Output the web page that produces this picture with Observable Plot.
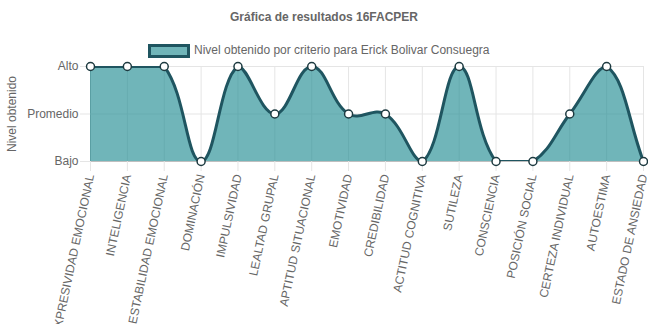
<!DOCTYPE html>
<html>
<head>
<meta charset="utf-8">
<script src="https://cdn.jsdelivr.net/npm/d3@7"></script>
<script src="https://cdn.jsdelivr.net/npm/@observablehq/plot@0.6"></script>
<style>
  html, body { margin: 0; padding: 0; background: #fff; }
  #chart { position: relative; width: 648px; height: 324px; overflow: hidden;
           font-family: "Liberation Sans", Arial, Helvetica, sans-serif; color: #666; }
  #title { position: absolute; left: 0; top: 9px; width: 648px; text-align: center;
           font-size: 12px; font-weight: bold; line-height: 16px; }
  #legend { position: absolute; top: 42px; left: 0; width: 648px; height: 16px; }
  #legend .swatch { position: absolute; left: 148px; top: 2px; width: 36px; height: 8px;
                    border: 3px solid #1f5560; background: rgba(36,142,148,0.65); }
  #legend .label { position: absolute; left: 194px; top: 0; font-size: 12px; line-height: 16px; white-space: nowrap; }
  #plot { position: absolute; left: 0; top: 60px; }
</style>
</head>
<body>
<div id="chart">
  <div id="title"></div>
  <div id="legend"><span class="swatch"></span><span class="label"></span></div>
  <div id="plot"></div>
</div>
<script>
// Criteria evaluated by the 16FACPER test
const criterios = [
  "EXPRESIVIDAD EMOCIONAL", "INTELIGENCIA", "ESTABILIDAD EMOCIONAL", "DOMINACIÓN",
  "IMPULSIVIDAD", "LEALTAD GRUPAL", "APTITUD SITUACIONAL", "EMOTIVIDAD",
  "CREDIBILIDAD", "ACTITUD COGNITIVA", "SUTILEZA", "CONSCIENCIA",
  "POSICIÓN SOCIAL", "CERTEZA INDIVIDUAL", "AUTOESTIMA", "ESTADO DE ANSIEDAD"
];
// Level reached per criterion: 0 = Bajo, 1 = Promedio, 2 = Alto
const niveles = [2, 2, 2, 0, 2, 1, 2, 1, 1, 0, 2, 0, 0, 1, 2, 0];
// Labels of the level axis
const etiquetasNivel = ["Bajo", "Promedio", "Alto"];

const titulo = "Gráfica de resultados 16FACPER";
const serie = "Nivel obtenido por criterio para Erick Bolivar Consuegra";
const ejeY = "Nivel obtenido";

document.getElementById("title").textContent = titulo;
document.querySelector("#legend .label").textContent = serie;

const W = 648, H = 264;
const M = {top: 6, right: 5, bottom: 163, left: 90};
const plotArea = {left: M.left, right: W - M.right, top: M.top, bottom: H - M.bottom};

const datos = criterios.map((c, i) => ({criterio: c, nivel: niveles[i]}));

// Bezier spline with tension 0.4 whose control points stay inside the plot area
function splineAcotado(area, tension = 0.4) {
  const cx = (v) => Math.max(Math.min(v, area.right), area.left);
  const cy = (v) => Math.max(Math.min(v, area.bottom), area.top);
  return (context) => {
    let pts = [], line = NaN;
    return {
      areaStart() { line = 0; },
      areaEnd() { line = NaN; },
      lineStart() { pts = []; },
      point(x, y) { pts.push([+x, +y]); },
      lineEnd() {
        const n = pts.length;
        if (n) {
          const cps = pts.map((p, i) => {
            const a = pts[Math.max(i - 1, 0)], b = pts[Math.min(i + 1, n - 1)];
            const d01 = Math.hypot(p[0] - a[0], p[1] - a[1]);
            const d12 = Math.hypot(b[0] - p[0], b[1] - p[1]);
            let s01 = d01 / (d01 + d12), s12 = d12 / (d01 + d12);
            if (!isFinite(s01)) s01 = 0;
            if (!isFinite(s12)) s12 = 0;
            const fa = tension * s01, fb = tension * s12;
            return {
              inX: cx(p[0] - fa * (b[0] - a[0])), inY: cy(p[1] - fa * (b[1] - a[1])),
              outX: cx(p[0] + fb * (b[0] - a[0])), outY: cy(p[1] + fb * (b[1] - a[1]))
            };
          });
          if (line) context.lineTo(pts[0][0], pts[0][1]);
          else context.moveTo(pts[0][0], pts[0][1]);
          for (let i = 1; i < n; i++) {
            context.bezierCurveTo(cps[i - 1].outX, cps[i - 1].outY, cps[i].inX, cps[i].inY, pts[i][0], pts[i][1]);
          }
        }
        if (line || (line !== 0 && n === 1)) context.closePath();
        line = 1 - line;
      }
    };
  };
}

const curva = splineAcotado(plotArea);
const gris = "#e5e5e5";
const grisCero = "#bfbfbf";
const tealLinea = "#1f5560";

const chart = Plot.plot({
  width: W,
  height: H,
  marginTop: M.top,
  marginRight: M.right,
  marginBottom: M.bottom,
  marginLeft: M.left,
  style: {fontFamily: "'Liberation Sans', Arial, Helvetica, sans-serif", fontSize: "12px", color: "#666", background: "transparent", overflow: "visible"},
  x: {type: "point", domain: criterios, padding: 0, round: false},
  y: {domain: [0, 2]},
  marks: [
    Plot.ruleX(criterios.slice(1), {stroke: gris}),
    Plot.ruleX(criterios.slice(0, 1), {stroke: grisCero}),
    Plot.ruleY([1, 2], {stroke: gris}),
    Plot.ruleY([0], {stroke: grisCero}),
    Plot.axisY({ticks: [0, 1, 2], tickFormat: (d) => etiquetasNivel[d], tickSize: 10, tickPadding: 2,
                stroke: gris, fill: "#666", fontSize: 12, label: null}),
    Plot.axisX({tickRotate: -78, tickSize: 10, tickPadding: 3, stroke: gris, fill: "#666", fontSize: 12, label: null}),
    Plot.text([ejeY], {frameAnchor: "left", dx: -78, rotate: -90, textAnchor: "middle", fill: "#666", fontSize: 12}),
    Plot.areaY(datos, {x: "criterio", y: "nivel", curve: curva, fill: "rgb(36,142,148)", fillOpacity: 0.65, clip: "frame"}),
    Plot.line(datos, {x: "criterio", y: "nivel", curve: curva, stroke: tealLinea, strokeWidth: 3, clip: "frame"}),
    Plot.dot(datos, {x: "criterio", y: "nivel", r: 4, fill: "white", stroke: "#1d3a40", strokeWidth: 1.5})
  ]
});
document.getElementById("plot").appendChild(chart);
</script>
</body>
</html>
